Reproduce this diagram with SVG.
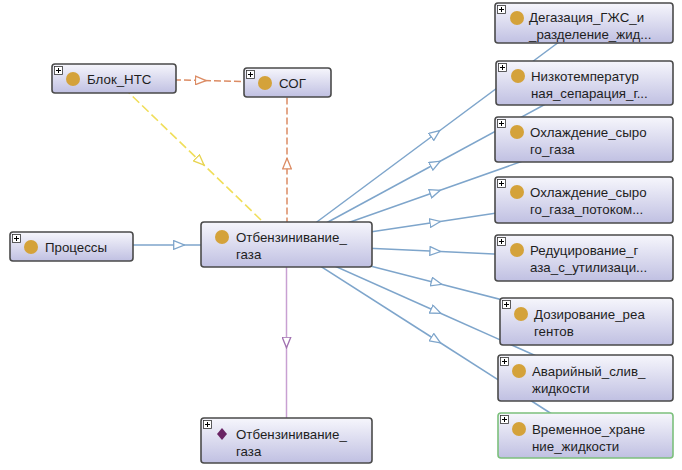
<svg xmlns="http://www.w3.org/2000/svg" width="682" height="470" viewBox="0 0 682 470">
<style>
.box{stroke:#4a4a4a;stroke-width:1.6;fill:url(#g)}
.boxg{stroke:#7cc07c;stroke-width:1.6;fill:url(#g)}
.t{font-family:"Liberation Sans",Arial,sans-serif;font-size:13.3px;fill:#1e1e1e}
.dot{fill:#d4a23a}
.pb{fill:#fff;stroke:#333;stroke-width:0.8}
.pl{stroke:#000;stroke-width:1}
.eb{fill:none;stroke:#7ea5cb;stroke-width:1.5;marker-mid:url(#ab)}
.eo{fill:none;stroke:#dc8c64;stroke-width:1.5;stroke-dasharray:7,3;marker-mid:url(#ao)}
.ey{fill:none;stroke:#f0de5a;stroke-width:1.6;stroke-dasharray:9,4;marker-mid:url(#ay)}
.ep{fill:none;stroke:#c8a0d2;stroke-width:1.5;marker-mid:url(#ap)}
</style>
<defs>
<linearGradient id="g" x1="0" y1="0" x2="0" y2="1">
<stop offset="0" stop-color="#f6f6fc"/>
<stop offset="1" stop-color="#c0c0e2"/>
</linearGradient>
<marker id="ab" viewBox="0 0 12 10" refX="6" refY="5" markerWidth="12" markerHeight="10" markerUnits="userSpaceOnUse" orient="auto"><path d="M0.7,0.7 L11.3,5 L0.7,9.3 z" fill="#fff" stroke="#7ea5cb" stroke-width="1.3"/></marker>
<marker id="ao" viewBox="0 0 12 10" refX="6" refY="5" markerWidth="12" markerHeight="10" markerUnits="userSpaceOnUse" orient="auto"><path d="M0.7,0.7 L11.3,5 L0.7,9.3 z" fill="#fff" stroke="#dc8c64" stroke-width="1.3"/></marker>
<marker id="ay" viewBox="0 0 12 10" refX="6" refY="5" markerWidth="12" markerHeight="10" markerUnits="userSpaceOnUse" orient="auto"><path d="M0.7,0.7 L11.3,5 L0.7,9.3 z" fill="#fff" stroke="#e8d450" stroke-width="1.3"/></marker>
<marker id="ap" viewBox="0 0 12 10" refX="6" refY="5" markerWidth="12" markerHeight="10" markerUnits="userSpaceOnUse" orient="auto"><path d="M0.7,0.7 L11.3,5 L0.7,9.3 z" fill="#fff" stroke="#a070b0" stroke-width="1.3"/></marker>
<g id="plus"><rect class="pb" x="0" y="0" width="8" height="8"/><path class="pl" d="M1.5,4 H6.5 M4,1.5 V6.5"/></g>
</defs>
<rect width="682" height="470" fill="#fff"/>
<g id="connectors">
<path class="eo" d="M114,78.5 L200.75,80.5 L287.5,82.5"/>
<path class="ey" d="M114,78.5 L200.25,161.5 L286.5,244.5"/>
<path class="eo" d="M287,244.5 L287,163.5 L287,82.5"/>
<path class="eb" d="M71.5,245 L179,245 L286.5,245"/>
<path class="ep" d="M286.5,244.5 L286.5,342.5 L286.5,440.5"/>
<path class="eb" d="M286.5,244.5 L435.5,133.75 L584.5,23"/>
<path class="eb" d="M286.5,244.5 L435.5,163.75 L584.5,83"/>
<path class="eb" d="M286.5,244.5 L435.25,192 L584,139.5"/>
<path class="eb" d="M286.5,244.5 L435.25,222.25 L584,200"/>
<path class="eb" d="M286.5,244.5 L435.25,251.25 L584,258"/>
<path class="eb" d="M286.5,244.5 L436.5,283 L586.5,321.5"/>
<path class="eb" d="M286.5,244.5 L436,311.25 L585.5,378"/>
<path class="eb" d="M286.5,244.5 L436,340 L585.5,435.5"/>
</g>
<g id="n-blok">
<rect class="box" x="52" y="64" width="124" height="29" rx="3"/>
<use href="#plus" x="54.5" y="66.5"/>
<circle class="dot" cx="73" cy="79" r="7"/>
<text class="t" x="87" y="83.5">Блок_НТС</text>
</g>
<g id="n-sog">
<rect class="box" x="244" y="68" width="87" height="29" rx="3"/>
<use href="#plus" x="246.5" y="70.5"/>
<circle class="dot" cx="265" cy="83" r="7"/>
<text class="t" x="279" y="87.5">СОГ</text>
</g>
<g id="n-proc">
<rect class="box" x="10" y="232" width="123" height="29" rx="3"/>
<use href="#plus" x="12.5" y="234.5"/>
<circle class="dot" cx="31" cy="247" r="7"/>
<text class="t" x="45" y="251.5">Процессы</text>
</g>
<g id="n-center">
<rect class="box" x="201" y="222" width="171" height="45" rx="3"/>
<circle class="dot" cx="222" cy="237" r="7"/>
<text class="t" x="236" y="241.5">Отбензинивание_</text>
<text class="t" x="236" y="258.5">газа</text>
</g>
<g id="n-bottom">
<rect class="box" x="201" y="418" width="171" height="45" rx="3"/>
<use href="#plus" x="203.5" y="420.5"/>
<path d="M222,428 L227,434 L222,440 L217,434 z" fill="#6a2464"/>
<text class="t" x="236" y="438.5">Отбензинивание_</text>
<text class="t" x="236" y="455.5">газа</text>
</g>
<g id="n-degaz">
<rect class="box" x="495" y="3" width="178" height="40" rx="3"/>
<use href="#plus" x="497.5" y="5.5"/>
<circle class="dot" cx="517" cy="18" r="7"/>
<text class="t" x="529" y="22">Дегазация_ГЖС_и</text>
<text class="t" x="529" y="38.5">_разделение_жид...</text>
</g>
<g id="n-nizko">
<rect class="box" x="496" y="61" width="177" height="44" rx="3"/>
<use href="#plus" x="498.5" y="63.5"/>
<circle class="dot" cx="518" cy="76" r="7"/>
<text class="t" x="531" y="80.5">Низкотемператур</text>
<text class="t" x="531" y="97.5">ная_сепарация_г...</text>
</g>
<g id="n-ohl1">
<rect class="box" x="495" y="117" width="178" height="45" rx="3"/>
<use href="#plus" x="497.5" y="119.5"/>
<circle class="dot" cx="517" cy="132" r="7"/>
<text class="t" x="530" y="136.5">Охлаждение_сыро</text>
<text class="t" x="530" y="153.5">го_газа</text>
</g>
<g id="n-ohl2">
<rect class="box" x="495" y="177" width="178" height="46" rx="3"/>
<use href="#plus" x="497.5" y="179.5"/>
<circle class="dot" cx="517" cy="192" r="7"/>
<text class="t" x="530" y="196.5">Охлаждение_сыро</text>
<text class="t" x="530" y="213.5">го_газа_потоком...</text>
</g>
<g id="n-red">
<rect class="box" x="495" y="235" width="178" height="46" rx="3"/>
<use href="#plus" x="497.5" y="237.5"/>
<circle class="dot" cx="517" cy="250" r="7"/>
<text class="t" x="530" y="254.5">Редуцирование_г</text>
<text class="t" x="530" y="271.5">аза_с_утилизаци...</text>
</g>
<g id="n-doz">
<rect class="box" x="500" y="298" width="173" height="47" rx="3"/>
<use href="#plus" x="502.5" y="300.5"/>
<circle class="dot" cx="521" cy="314" r="7"/>
<text class="t" x="534" y="318.5">Дозирование_реа</text>
<text class="t" x="534" y="335.5">гентов</text>
</g>
<g id="n-avar">
<rect class="box" x="498" y="355" width="175" height="46" rx="3"/>
<use href="#plus" x="500.5" y="357.5"/>
<circle class="dot" cx="519" cy="371" r="7"/>
<text class="t" x="532" y="375.5">Аварийный_слив_</text>
<text class="t" x="532" y="392.5">жидкости</text>
</g>
<g id="n-vrem">
<rect class="boxg" x="498" y="413" width="175" height="45" rx="3"/>
<use href="#plus" x="500.5" y="415.5"/>
<circle class="dot" cx="519" cy="429" r="7"/>
<text class="t" x="532" y="433.5">Временное_хране</text>
<text class="t" x="532" y="450.5">ние_жидкости</text>
</g>
</svg>
